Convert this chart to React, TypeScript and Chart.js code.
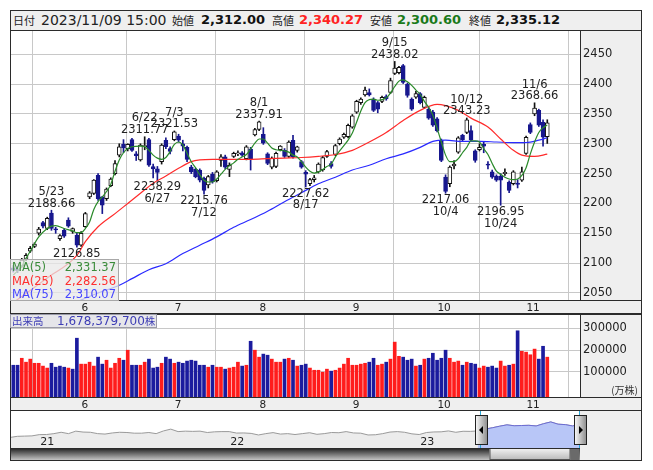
import React, { useEffect, useRef } from 'react';
import { Chart, registerables } from 'chart.js';

Chart.register(...registerables);

const LATIN = '"DejaVu Sans", "Noto Sans CJK JP", sans-serif';
const CJK = '"Noto Sans CJK JP", "DejaVu Sans", sans-serif';
Chart.defaults.font.family = LATIN;

// ---------------- data (daily, 2023/05/10 .. 2023/11/09) ----------------
const opens = [
  2092, 2090, 2095, 2106, 2120, 2128, 2150, 2168, 2158, 2184,
  2157, 2141, 2155, 2172, 2153, 2147, 2130, 2161, 2211, 2217,
  2247, 2211, 2208, 2230, 2250, 2281, 2299, 2292, 2307, 2283,
  2273, 2295, 2307, 2262, 2258, 2270, 2306, 2292, 2307, 2313,
  2300, 2294, 2261, 2257, 2256, 2242, 2231, 2249, 2238, 2272,
  2278, 2257, 2279, 2283, 2285, 2275, 2291, 2315, 2324, 2316,
  2283, 2261, 2262, 2290, 2289, 2279, 2306, 2289, 2270, 2252,
  2233, 2240, 2253, 2256, 2279, 2267, 2282, 2300, 2311, 2312,
  2328, 2353, 2369, 2382, 2386, 2375, 2369, 2371, 2379, 2386,
  2418, 2419, 2431, 2400, 2375, 2378, 2384, 2361, 2358, 2353,
  2342, 2306, 2244, 2233, 2263, 2286, 2314, 2319, 2322, 2288,
  2290, 2299, 2266, 2253, 2246, 2246, 2250, 2236, 2233, 2234,
  2239, 2284, 2332, 2350, 2356, 2336, 2312,
];
const highs = [
  2096, 2095, 2108, 2116, 2128, 2134, 2160, 2170, 2177, 2188.66,
  2160, 2148, 2158, 2176, 2159, 2150, 2153, 2185, 2220, 2240,
  2250, 2212, 2226, 2243, 2272, 2300, 2307, 2300, 2309, 2287,
  2300, 2311.77, 2309, 2266, 2262, 2300, 2310, 2295, 2321.53, 2316,
  2306, 2296, 2264, 2259, 2258, 2244, 2247, 2252, 2255, 2282,
  2281, 2268, 2286, 2288, 2287, 2297, 2294, 2326, 2337.91, 2327,
  2285, 2278, 2286, 2297, 2292, 2305, 2314, 2296, 2272, 2255,
  2242, 2247, 2268, 2279, 2289, 2270, 2299, 2310, 2318, 2333,
  2349, 2373, 2377, 2395, 2392, 2377, 2371, 2380, 2382, 2410,
  2438.02, 2430, 2433, 2402, 2377, 2388, 2386, 2380, 2362, 2356,
  2344, 2308, 2248, 2263, 2272, 2312, 2316, 2343.23, 2330, 2290,
  2300, 2304, 2270, 2256, 2248, 2250, 2258, 2238, 2255, 2240,
  2261, 2313, 2335, 2368.66, 2358, 2340, 2340.27,
];
const lows = [
  2085, 2084, 2093, 2104, 2118, 2126, 2147, 2159, 2156, 2155,
  2150, 2138, 2143, 2160, 2150, 2126.85, 2128, 2160, 2208, 2215,
  2205, 2183, 2205, 2228, 2248, 2278, 2285, 2288, 2287, 2272,
  2271, 2290, 2262, 2243, 2238.29, 2266, 2292, 2283, 2305, 2303,
  2288, 2270, 2250, 2243, 2236, 2215.76, 2226, 2234, 2236, 2262,
  2258, 2245, 2277, 2280, 2279, 2273, 2256, 2313, 2322, 2299,
  2265, 2258, 2260, 2288, 2277, 2277, 2276, 2286, 2259, 2227.62,
  2230, 2236, 2251, 2254, 2277, 2259, 2280, 2298, 2309, 2310,
  2326, 2351, 2366, 2380, 2380, 2354, 2352, 2369, 2373, 2384,
  2416, 2417, 2401, 2378, 2356, 2376, 2367, 2359, 2341, 2329,
  2320, 2270, 2217.06, 2228, 2258, 2284, 2305, 2317, 2304, 2269,
  2288, 2285, 2258, 2242, 2237, 2196.95, 2247, 2218, 2231, 2226,
  2237, 2282, 2317, 2347, 2329, 2296, 2300.6,
];
const closes = [
  2088, 2087, 2105, 2113, 2125, 2132, 2157, 2162, 2175, 2158,
  2156, 2146, 2145, 2162, 2158, 2130, 2150, 2183, 2218, 2239,
  2208, 2197, 2224, 2241, 2267, 2295, 2293, 2299, 2289, 2280,
  2298, 2297, 2264, 2258, 2252, 2298, 2295, 2287, 2320, 2306,
  2296, 2274, 2253, 2245, 2239, 2222, 2245, 2236, 2253, 2278,
  2261, 2264, 2284, 2285, 2281, 2295, 2275, 2324, 2337, 2301,
  2267, 2276, 2284, 2296, 2279, 2303, 2278, 2295, 2261, 2249,
  2240, 2243, 2266, 2277, 2287, 2262, 2297, 2308, 2316, 2331,
  2347, 2371, 2375, 2390, 2382, 2356, 2358, 2378, 2375, 2406,
  2427, 2428, 2403, 2381, 2358, 2384, 2369, 2378, 2343, 2331,
  2322, 2272, 2220, 2261, 2266, 2310, 2307, 2340, 2306, 2272,
  2294, 2296, 2264, 2244, 2239, 2239, 2252, 2222, 2253, 2232,
  2253, 2311, 2319, 2360, 2331, 2311, 2335.12,
];
// volume in 万株
const volumes = [
  131000, 131000, 163000, 145000, 159000, 140000, 140000, 127000, 118000, 140000,
  122000, 127000, 122000, 118000, 113000, 255000, 136000, 136000, 145000, 127000,
  168000, 136000, 154000, 118000, 140000, 163000, 154000, 200000, 131000, 131000,
  131000, 145000, 159000, 118000, 122000, 140000, 168000, 159000, 140000, 145000,
  140000, 150000, 154000, 150000, 131000, 131000, 122000, 131000, 122000, 122000,
  113000, 118000, 122000, 145000, 127000, 131000, 241000, 200000, 168000, 182000,
  177000, 159000, 145000, 145000, 159000, 163000, 154000, 127000, 131000, 136000,
  118000, 108000, 108000, 99000, 113000, 104000, 108000, 118000, 136000, 163000,
  131000, 131000, 136000, 140000, 145000, 163000, 131000, 136000, 145000, 159000,
  237000, 172000, 168000, 154000, 159000, 127000, 131000, 159000, 163000, 186000,
  154000, 163000, 200000, 163000, 145000, 150000, 131000, 145000, 140000, 136000,
  118000, 127000, 122000, 127000, 118000, 150000, 127000, 131000, 136000, 289000,
  195000, 191000, 179000, 205000, 159000, 218000, 168000,
];
// u = up from previous close (red), d = down (blue)
const volumeDirection = (
  'dduuuuuuud' + 'dddudduuuu' + 'dduuuududd' + 'uuddduddud' + 'dddddduduu' +
  'duuududuud' + 'duuudududd' + 'uuuuuduuuu' + 'uuuudduudu' + 'uudddududd' +
  'ddduuududd' + 'uuddduudud' + 'uuuuddu'
).split('');

// moving averages: [day index, value]
const ma5 = [
  [0, 2080], [2, 2095], [3, 2108], [4, 2120], [6, 2144], [8, 2158], [9, 2162], [10, 2163], [12, 2158],
  [14, 2154], [15, 2151], [16, 2151], [17, 2158], [18, 2169], [19, 2190], [20, 2203], [21, 2211],
  [22, 2220], [23, 2232], [24, 2254], [25, 2273], [26, 2285], [27, 2292], [28, 2295], [30, 2296],
  [31, 2295], [32, 2289], [33, 2281], [34, 2276], [35, 2274], [36, 2277], [37, 2287], [38, 2299],
  [39, 2303], [40, 2298], [41, 2284], [42, 2270], [43, 2260], [44, 2248], [45, 2239], [46, 2236],
  [47, 2236], [48, 2241], [49, 2249], [50, 2257], [51, 2263], [52, 2268], [53, 2274], [54, 2278],
  [55, 2282], [56, 2291], [57, 2301], [58, 2308], [59, 2308], [60, 2301], [61, 2293], [62, 2290],
  [63, 2289], [64, 2288], [65, 2286], [66, 2281], [67, 2278], [68, 2270], [69, 2261], [70, 2254],
  [71, 2251], [72, 2253], [73, 2257], [74, 2262], [75, 2266], [76, 2278], [77, 2288], [78, 2297],
  [79, 2306], [80, 2318], [81, 2336], [82, 2355], [83, 2369], [84, 2374], [85, 2375], [86, 2373],
  [87, 2374], [88, 2377], [89, 2385], [90, 2396], [91, 2405], [92, 2407], [93, 2404], [94, 2398],
  [95, 2390], [96, 2383], [97, 2371], [98, 2361], [99, 2348], [100, 2326], [101, 2303], [102, 2281],
  [103, 2270], [104, 2270], [105, 2275], [106, 2285], [107, 2294], [108, 2305], [109, 2305],
  [110, 2303], [111, 2292], [112, 2282], [113, 2267], [114, 2254], [115, 2249], [116, 2244],
  [117, 2241], [118, 2240], [119, 2241], [120, 2247], [121, 2260], [122, 2283], [123, 2303],
  [124, 2319], [125, 2327], [126, 2331.37],
];
const ma25 = [
  [0, 2034], [8, 2075], [15, 2113], [17, 2136], [20, 2161], [24, 2183], [27, 2200], [30, 2217],
  [33, 2234], [36, 2246], [39, 2259], [42, 2270], [44, 2273], [47, 2274], [52, 2274], [56, 2274],
  [60, 2275], [64, 2276], [68, 2277], [72, 2279], [76, 2282], [80, 2289], [84, 2303], [88, 2319],
  [92, 2339], [96, 2356], [100, 2366], [102, 2364], [105, 2356], [108, 2343], [112, 2328],
  [115, 2308], [118, 2289], [120, 2281], [123, 2279], [126, 2282.56],
];
const ma75 = [
  [0, 1988], [12, 2026], [20, 2050], [25, 2063], [28, 2074], [32, 2089], [36, 2099], [40, 2116],
  [44, 2130], [48, 2144], [52, 2160], [56, 2173], [60, 2187], [64, 2203], [68, 2218], [72, 2233],
  [76, 2244], [80, 2256], [84, 2264], [88, 2275], [92, 2283], [96, 2294], [99, 2304], [102, 2306],
  [106, 2304], [110, 2304], [114, 2303], [118, 2302], [121, 2302], [124, 2306], [126, 2310.07],
];

const priceTicks = [2050, 2100, 2150, 2200, 2250, 2300, 2350, 2400, 2450];
const volumeTicks = [100000, 200000, 300000];
const monthStarts = [16, 38, 58, 80, 100, 121];
const monthLabels = ['6', '7', '8', '9', '10', '11'];

// marked highs / lows: day index, date text, high or low
const extremes = [
  { i: 9, date: '5/23', high: true },
  { i: 15, date: '', high: false },
  { i: 31, date: '6/22', high: true },
  { i: 34, date: '6/27', high: false },
  { i: 38, date: '7/3', high: true },
  { i: 45, date: '7/12', high: false },
  { i: 58, date: '8/1', high: true },
  { i: 69, date: '8/17', high: false },
  { i: 90, date: '9/15', high: true },
  { i: 102, date: '10/4', high: false },
  { i: 107, date: '10/12', high: true },
  { i: 115, date: '10/24', high: false },
  { i: 123, date: '11/6', high: true },
];

// navigator (biweekly, 2020/11 .. 2023/11)
const navValues = [
  1730, 1780, 1790, 1800,
  1855, 1860, 1900, 1960, 1900, 2010, 1970, 1960, 1900, 1880, 1930, 1960, 1950,
  1920, 1920, 1950, 1900, 2020, 2100, 1990, 2010, 2000, 2010, 1950, 1980, 1990,
  1990, 1925, 1930, 1910, 1840, 1900, 1945, 1880, 1900, 1860, 1900, 1940, 1870,
  1900, 1950, 1940, 1990, 1930, 1920, 1840, 1850, 1900, 1970, 1990, 1960, 1890,
  1860, 1950, 1975, 1980, 2020, 1960, 2005, 2000, 2020, 2100, 2160, 2230, 2290,
  2250, 2260, 2270, 2240, 2340, 2420, 2320, 2300, 2240, 2335,
];
const navYearStarts = [4, 30, 56];
const navYearLabels = ['21', '22', '23'];
const NAV_SELECT_FROM = 64.3;

const legendRows = [
  { label: 'MA(5)', value: '2,331.37', color: '#3a8c3a' },
  { label: 'MA(25)', value: '2,282.56', color: '#ff3030' },
  { label: 'MA(75)', value: '2,310.07', color: '#4646ff' },
];

const headerParts = [
  { text: '日付', x: 13, kind: 'label', color: '#222' },
  { text: '2023/11/09 15:00', x: 41, kind: 'date', color: '#222' },
  { text: '始値', x: 172, kind: 'label', color: '#222' },
  { text: '2,312.00', x: 201, kind: 'num', color: '#111' },
  { text: '高値', x: 272, kind: 'label', color: '#222' },
  { text: '2,340.27', x: 299, kind: 'num', color: '#ff2222' },
  { text: '安値', x: 370, kind: 'label', color: '#222' },
  { text: '2,300.60', x: 397, kind: 'num', color: '#1a7a1a' },
  { text: '終値', x: 469, kind: 'label', color: '#222' },
  { text: '2,335.12', x: 496, kind: 'num', color: '#111' },
];

// ---------------- styling ----------------
const PANEL = '#efefef';
const LINE = '#2b2b2b';
const GRID = '#c8c8c8';
const NAVY = '#17178e';
const VOL_RED = '#ff1c1c';
const VOL_BLUE = '#1b1b9e';

const X_MIN = -0.78;
const X_MAX = 133.72;
const P_MIN = 2038.2;
const P_MAX = 2490.7;
const V_MIN = -14680;
const V_MAX = 366000;
const N_MIN = 1261;
const N_MAX = 2906;

const N = opens.length;
const idx = Array.from({ length: N }, (_, i) => i);
const isUp = (i: number) => closes[i] >= opens[i];

function xAxis(stripHeight: number) {
  return {
    type: 'linear',
    min: X_MIN,
    max: X_MAX,
    offset: false,
    grid: { color: GRID, drawTicks: false, lineWidth: 1 },
    border: { display: false },
    ticks: { display: false },
    afterBuildTicks: (s: any) => {
      s.ticks = monthStarts.map((m) => ({ value: m - 0.4 }));
    },
    afterFit: (s: any) => {
      s.height = stripHeight;
      s.paddingLeft = 0;
      s.paddingRight = 0;
    },
  };
}

function yAxis(min: number, max: number, ticks: number[]) {
  return {
    type: 'linear',
    position: 'right',
    min,
    max,
    grid: { color: GRID, drawTicks: false, lineWidth: 1 },
    border: { display: false },
    afterBuildTicks: (s: any) => {
      s.ticks = ticks.map((v) => ({ value: v }));
    },
    ticks: {
      color: '#222',
      padding: 3,
      autoSkip: false,
      font: { family: LATIN, size: 11.5 },
      callback: (v: any) => String(v),
    },
    afterFit: (s: any) => {
      s.width = 62;
      s.paddingTop = 0;
      s.paddingBottom = 0;
    },
  };
}

function panelPlugin(id: string) {
  return {
    id,
    beforeDraw(chart: any) {
      const { ctx, chartArea: a, width, height } = chart;
      ctx.save();
      ctx.fillStyle = '#ffffff';
      ctx.fillRect(a.left, a.top, a.right - a.left, a.bottom - a.top);
      ctx.fillStyle = PANEL;
      ctx.fillRect(a.right, 0, width - a.right, a.bottom);
      ctx.fillRect(0, a.bottom, width, height - a.bottom);
      ctx.restore();
    },
    afterDraw(chart: any) {
      const { ctx, chartArea: a, width, height, scales } = chart;
      ctx.save();
      // month labels in strip
      ctx.font = `10.5px ${LATIN}`;
      ctx.fillStyle = '#222';
      ctx.textAlign = 'left';
      ctx.textBaseline = 'alphabetic';
      monthStarts.forEach((m, k) => {
        const px = scales.x.getPixelForValue(m - 0.4) + 2;
        ctx.fillText(monthLabels[k], px, a.bottom + 10.5);
      });
      // borders
      ctx.strokeStyle = LINE;
      ctx.lineWidth = 1;
      ctx.beginPath();
      ctx.moveTo(0.5, 0);
      ctx.lineTo(0.5, height);
      ctx.moveTo(width - 0.5, 0);
      ctx.lineTo(width - 0.5, height);
      ctx.moveTo(Math.round(a.right) + 0.5, 0);
      ctx.lineTo(Math.round(a.right) + 0.5, a.bottom);
      ctx.moveTo(0, 0.5);
      ctx.lineTo(width, 0.5);
      ctx.moveTo(0, Math.round(a.bottom) + 0.5);
      ctx.lineTo(width, Math.round(a.bottom) + 0.5);
      ctx.moveTo(0, height - 0.5);
      ctx.lineTo(width, height - 0.5);
      ctx.stroke();
      ctx.restore();
    },
  };
}

const extremeLabels = {
  id: 'extremeLabels',
  afterDatasetsDraw(chart: any) {
    const { ctx, scales } = chart;
    ctx.save();
    ctx.font = `11.5px ${LATIN}`;
    ctx.fillStyle = '#222';
    ctx.textAlign = 'center';
    ctx.textBaseline = 'alphabetic';
    const capHalf = 4.2;
    extremes.forEach((e) => {
      const v = e.high ? highs[e.i] : lows[e.i];
      const px = scales.x.getPixelForValue(e.i);
      const py = scales.y.getPixelForValue(v);
      const t = v.toFixed(2);
      if (e.high) {
        ctx.fillText(t, px, py - 7.8 + capHalf);
        if (e.date) ctx.fillText(e.date, px, py - 19.5 + capHalf);
      } else {
        ctx.fillText(t, px, py + 5.6 + capHalf);
        if (e.date) ctx.fillText(e.date, px, py + 17.3 + capHalf);
      }
    });
    ctx.restore();
  },
};

function makeMain(canvas: HTMLCanvasElement) {
  const lineDs = (pts: number[][], color: string, order: number) => ({
    type: 'line',
    data: pts.map(([x, y]) => ({ x, y })),
    borderColor: color,
    borderWidth: 1.2,
    pointRadius: 0,
    fill: false,
    cubicInterpolationMode: 'monotone',
    order,
  });
  return new Chart(canvas, {
    type: 'bar',
    data: {
      datasets: [
        {
          type: 'bar',
          data: idx.map((i) => ({ x: i, y: [lows[i], highs[i]] })),
          backgroundColor: idx.map((i) => (isUp(i) ? '#111111' : NAVY)),
          barThickness: 1,
          grouped: false,
          order: 5,
        },
        {
          type: 'bar',
          data: idx.map((i) => {
            const lo = Math.min(opens[i], closes[i]);
            const hi = Math.max(opens[i], closes[i]);
            const pad = hi - lo < 1.7 ? (1.7 - (hi - lo)) / 2 : 0;
            return { x: i, y: [lo - pad, hi + pad] };
          }),
          backgroundColor: idx.map((i) => (isUp(i) ? '#ffffff' : NAVY)),
          borderColor: idx.map((i) => (isUp(i) ? '#111111' : NAVY)),
          borderWidth: 1,
          borderSkipped: false,
          barThickness: 4,
          grouped: false,
          order: 4,
        },
        lineDs(ma75, '#2a2aff', 3),
        lineDs(ma25, '#ff2a2a', 2),
        lineDs(ma5, '#2a8a2a', 1),
      ],
    } as any,
    options: {
      responsive: false,
      animation: false,
      devicePixelRatio: 1,
      events: [],
      layout: { padding: 0 },
      plugins: { legend: { display: false }, tooltip: { enabled: false } },
      scales: {
        x: xAxis(14),
        y: yAxis(P_MIN, P_MAX, priceTicks),
      },
    } as any,
    plugins: [panelPlugin('mainPanel'), extremeLabels],
  });
}

function makeVolume(canvas: HTMLCanvasElement) {
  return new Chart(canvas, {
    type: 'bar',
    data: {
      datasets: [
        {
          data: idx.map((i) => ({ x: i, y: volumes[i] })),
          backgroundColor: idx.map((i) => (volumeDirection[i] === 'u' ? VOL_RED : VOL_BLUE)),
          barThickness: 3,
          base: V_MIN,
        },
      ],
    } as any,
    options: {
      responsive: false,
      animation: false,
      devicePixelRatio: 1,
      events: [],
      layout: { padding: 0 },
      plugins: { legend: { display: false }, tooltip: { enabled: false } },
      scales: {
        x: xAxis(14),
        y: yAxis(V_MIN, V_MAX, volumeTicks),
      },
    } as any,
    plugins: [panelPlugin('volPanel')],
  });
}

function makeNavigator(canvas: HTMLCanvasElement) {
  const pts = navValues.map((v, k) => ({ x: k, y: v }));
  const navPlugin = {
    id: 'navPlugin',
    beforeDraw(chart: any) {
      const { ctx, chartArea: a, width, height } = chart;
      ctx.save();
      ctx.fillStyle = '#ffffff';
      ctx.fillRect(a.left, a.top, a.right - a.left, a.bottom - a.top);
      ctx.fillStyle = PANEL;
      ctx.fillRect(a.right, 0, width - a.right, height);
      ctx.restore();
    },
    afterDraw(chart: any) {
      const { ctx, chartArea: a, width, height, scales } = chart;
      const xs = scales.x;
      ctx.save();
      // year labels
      ctx.font = `11px ${LATIN}`;
      ctx.fillStyle = '#222';
      ctx.textAlign = 'left';
      navYearStarts.forEach((k, j) => {
        ctx.fillText(navYearLabels[j], xs.getPixelForValue(k) + 1, a.bottom - 3);
      });
      const selL = Math.round(xs.getPixelForValue(NAV_SELECT_FROM)) + 0.5;
      const selR = Math.round(xs.getPixelForValue(navValues.length - 1)) - 0.5;
      // scrollbar
      const sbTop = Math.round(a.bottom);
      const sbBot = height - 1;
      let g = ctx.createLinearGradient(0, sbTop, 0, sbBot);
      g.addColorStop(0, '#1e1e1e');
      g.addColorStop(1, '#c4c4c4');
      ctx.fillStyle = g;
      ctx.fillRect(0, sbTop, selR + 0.5, sbBot - sbTop);
      g = ctx.createLinearGradient(0, sbTop, 0, sbBot);
      g.addColorStop(0, '#f4f4f4');
      g.addColorStop(1, '#b8b8b8');
      ctx.fillStyle = g;
      ctx.fillRect(selL + 9, sbTop + 1, selR - selL - 18, sbBot - sbTop - 1);
      ctx.fillStyle = '#6a6a6a';
      ctx.fillRect(selR - 9, sbTop + 1, 9, sbBot - sbTop - 1);
      ctx.strokeStyle = '#555';
      ctx.lineWidth = 1;
      ctx.strokeRect(selL + 9.5, sbTop + 0.5, selR - selL - 19, sbBot - sbTop - 1);
      // selection lines
      ctx.strokeStyle = '#2aa7d8';
      ctx.beginPath();
      ctx.moveTo(selL, a.top);
      ctx.lineTo(selL, sbTop);
      ctx.moveTo(selR, a.top);
      ctx.lineTo(selR, sbTop);
      ctx.stroke();
      // handles
      const handle = (cx: number, left: boolean) => {
        const x0 = Math.round(cx - 6) + 0.5;
        const w = 12;
        const y0 = 4.5;
        const h = 29;
        const hg = ctx.createLinearGradient(x0, 0, x0 + w, 0);
        hg.addColorStop(0, '#fafafa');
        hg.addColorStop(1, '#8c8c8c');
        ctx.fillStyle = hg;
        ctx.fillRect(x0, y0, w, h);
        ctx.strokeStyle = '#222';
        ctx.strokeRect(x0, y0, w, h);
        ctx.fillStyle = '#000';
        ctx.beginPath();
        const cy = y0 + h / 2;
        const mx = x0 + w / 2;
        if (left) {
          ctx.moveTo(mx - 2.5, cy);
          ctx.lineTo(mx + 1.5, cy - 4);
          ctx.lineTo(mx + 1.5, cy + 4);
        } else {
          ctx.moveTo(mx + 2.5, cy);
          ctx.lineTo(mx - 1.5, cy - 4);
          ctx.lineTo(mx - 1.5, cy + 4);
        }
        ctx.closePath();
        ctx.fill();
      };
      handle(selL, true);
      handle(selR, false);
      // borders
      ctx.strokeStyle = LINE;
      ctx.beginPath();
      ctx.moveTo(0.5, 0);
      ctx.lineTo(0.5, height);
      ctx.moveTo(width - 0.5, 0);
      ctx.lineTo(width - 0.5, height);
      ctx.moveTo(0, sbTop + 0.5);
      ctx.lineTo(selR + 0.5, sbTop + 0.5);
      ctx.moveTo(0, height - 0.5);
      ctx.lineTo(width, height - 0.5);
      ctx.stroke();
      ctx.restore();
    },
  };
  return new Chart(canvas, {
    type: 'line',
    data: {
      datasets: [
        {
          data: pts,
          borderColor: '#9a9a9a',
          borderWidth: 1,
          pointRadius: 0,
          fill: 'start',
          backgroundColor: '#ececec',
          tension: 0,
          order: 2,
        },
        {
          data: pts.filter((p) => p.x >= Math.floor(NAV_SELECT_FROM)),
          borderColor: '#6c6cd4',
          borderWidth: 1,
          pointRadius: 0,
          fill: 'start',
          backgroundColor: '#b8c6f7',
          tension: 0,
          order: 1,
        },
      ],
    } as any,
    options: {
      responsive: false,
      animation: false,
      devicePixelRatio: 1,
      events: [],
      layout: { padding: { left: 0, right: 62, top: 0, bottom: 13 } },
      plugins: { legend: { display: false }, tooltip: { enabled: false } },
      scales: {
        x: { type: 'linear', display: false, min: 0, max: navValues.length - 1 },
        y: { type: 'linear', display: false, min: N_MIN, max: N_MAX },
      },
    } as any,
    plugins: [navPlugin],
  });
}

export default function App() {
  const mainRef = useRef<HTMLCanvasElement>(null);
  const volRef = useRef<HTMLCanvasElement>(null);
  const navRef = useRef<HTMLCanvasElement>(null);

  useEffect(() => {
    const charts: Chart[] = [];
    if (mainRef.current) charts.push(makeMain(mainRef.current));
    if (volRef.current) charts.push(makeVolume(volRef.current));
    if (navRef.current) charts.push(makeNavigator(navRef.current));
    return () => charts.forEach((c) => c.destroy());
  }, []);

  const abs = (l: number, t: number, w: number, h: number): React.CSSProperties => ({
    position: 'absolute',
    left: l,
    top: t,
    width: w,
    height: h,
  });

  return (
    <div style={{ position: 'absolute', left: 0, top: 0, width: 653, height: 470, background: '#fff', overflow: 'hidden' }}>
      {/* header */}
      <div style={{ ...abs(10, 10, 632, 21), boxSizing: 'border-box', border: `1px solid ${LINE}`, background: PANEL }} />
      {headerParts.map((p, k) => (
        <span
          key={k}
          style={{
            position: 'absolute',
            left: p.x,
            top: 10,
            height: 20,
            lineHeight: '20px',
            whiteSpace: 'nowrap',
            color: p.color,
            fontFamily: p.kind === 'label' ? CJK : LATIN,
            fontSize: p.kind === 'label' ? 11 : p.kind === 'date' ? 14 : 13,
            fontWeight: p.kind === 'num' ? 'bold' : 'normal',
          }}
        >
          {p.text}
        </span>
      ))}

      <canvas ref={mainRef} width={632} height={284} style={{ ...abs(10, 30, 632, 284), display: 'block' }} />
      <canvas ref={volRef} width={632} height={97} style={{ ...abs(10, 314, 632, 97), display: 'block' }} />
      <canvas ref={navRef} width={632} height={50} style={{ ...abs(10, 411, 632, 50), display: 'block' }} />

      {/* MA legend */}
      <div
        style={{
          ...abs(10, 259, 109, 42),
          boxSizing: 'border-box',
          background: 'rgba(232,232,232,0.75)',
          border: '1px solid #a8a8a8',
        }}
      >
        {legendRows.map((r, k) => (
          <div
            key={k}
            style={{
              position: 'absolute',
              left: 1,
              right: 2,
              top: 1 + k * 13.5,
              height: 13.5,
              lineHeight: '13.5px',
              fontFamily: LATIN,
              fontSize: 11.5,
              color: r.color,
              display: 'flex',
              justifyContent: 'space-between',
            }}
          >
            <span>{r.label}</span>
            <span>{r.value}</span>
          </div>
        ))}
      </div>

      {/* volume label */}
      <div
        style={{
          ...abs(10, 314, 147, 14),
          boxSizing: 'border-box',
          background: 'rgba(226,226,230,0.85)',
          border: '1px solid #9a9aa8',
        }}
      />
      <span style={{ position: 'absolute', left: 12, top: 314, lineHeight: '14px', fontFamily: CJK, fontSize: 10.5, color: '#3d3db5' }}>
        出来高
      </span>
      <span style={{ position: 'absolute', left: 57, top: 314, lineHeight: '14px', whiteSpace: 'nowrap', fontFamily: LATIN, fontSize: 12, color: '#3d3db5' }}>
        1,678,379,700<span style={{ fontFamily: CJK, fontSize: 10.5 }}>株</span>
      </span>
      <span style={{ position: 'absolute', right: 653 - 638, top: 384, lineHeight: '12px', fontFamily: CJK, fontSize: 10, color: '#333' }}>
        (万株)
      </span>
    </div>
  );
}
